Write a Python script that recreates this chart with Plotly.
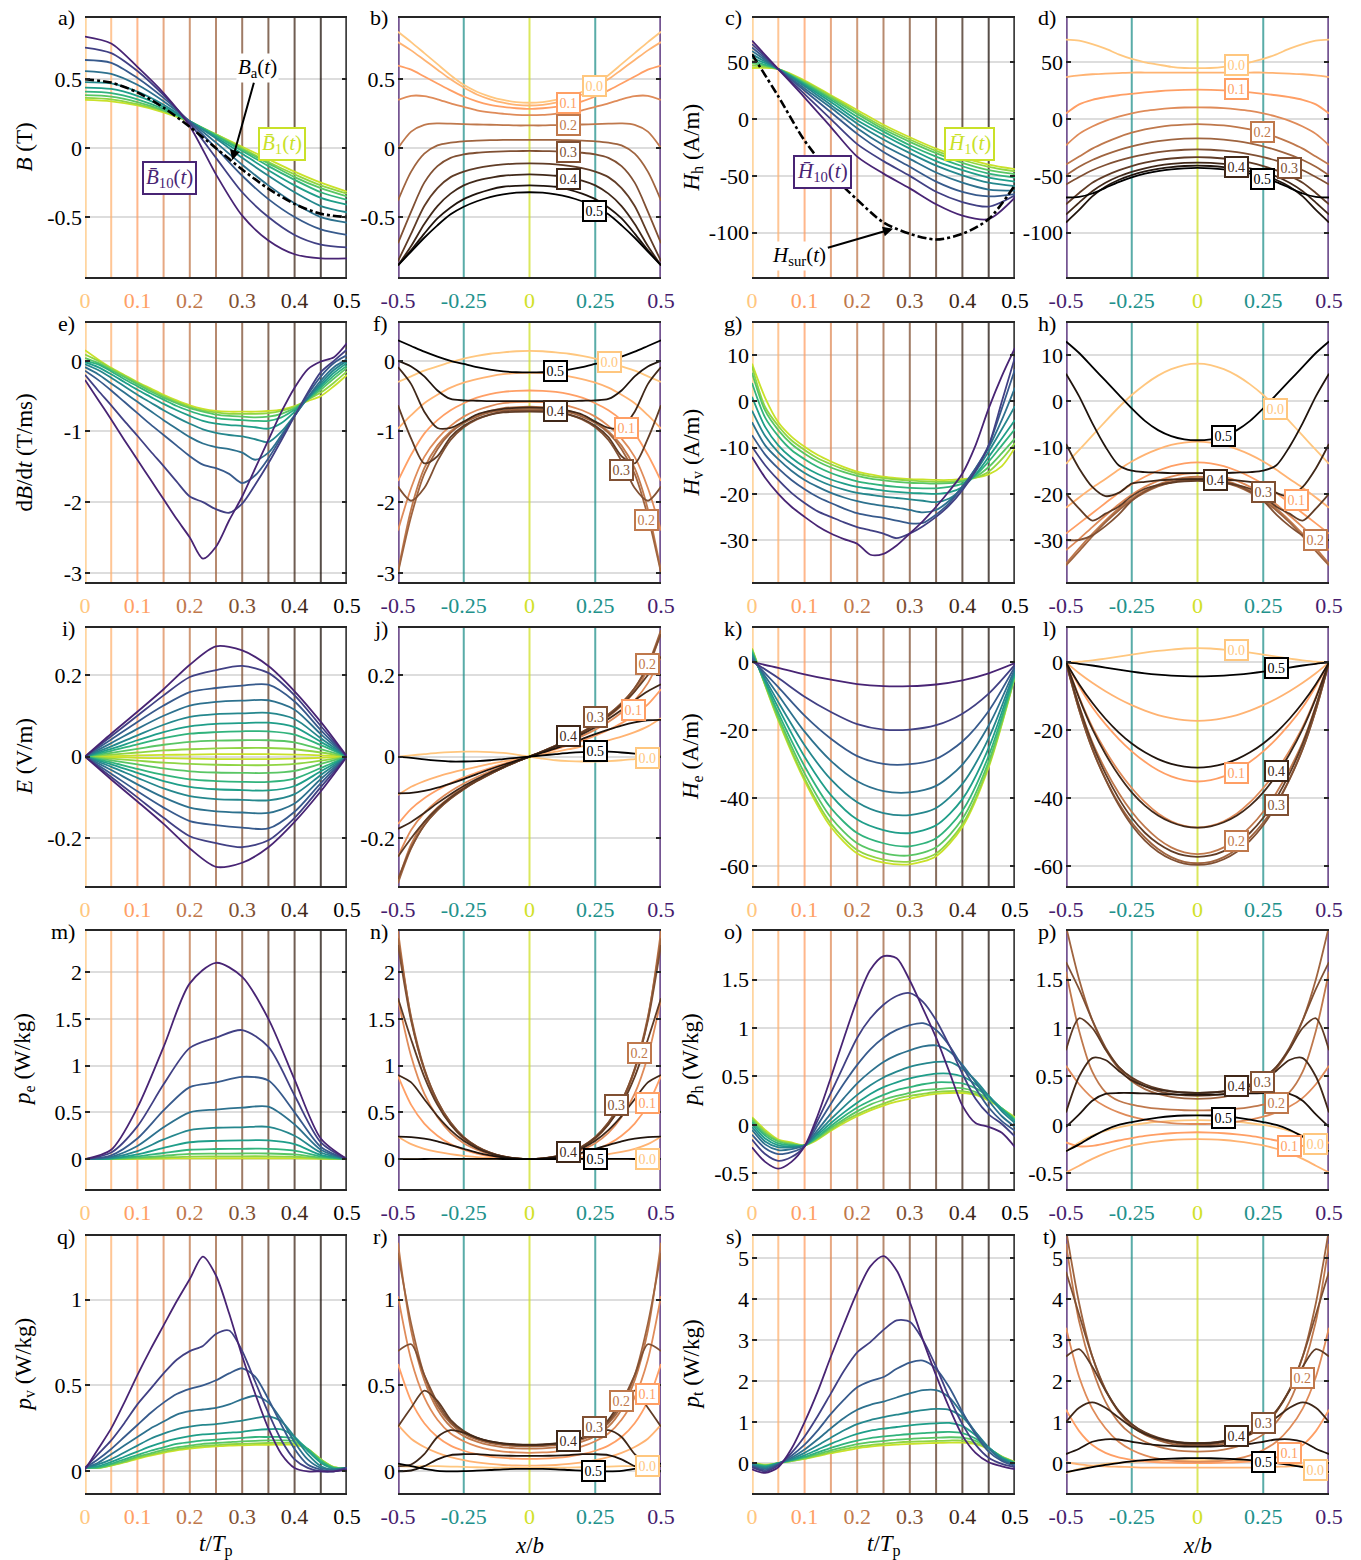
import plotly.graph_objects as go
from plotly.colors import sample_colorscale

W, H = 1361, 1560
FONT = "Liberation Serif"
COLS = [(85, 347), (398, 661), (752, 1015), (1066, 1329)]
ROWS = [(18, 277), (323, 582), (628, 886), (931, 1189), (1236, 1493)]

# ---------------------------------------------------------------- grids
T11 = [0, 0.05, 0.1, 0.15, 0.2, 0.25, 0.3, 0.35, 0.4, 0.45, 0.5]
T21 = [0, 0.025, 0.05, 0.075, 0.1, 0.125, 0.15, 0.175, 0.2, 0.225, 0.25,
       0.275, 0.3, 0.325, 0.35, 0.375, 0.4, 0.425, 0.45, 0.475, 0.5]
X_HALF = [0, 0.05, 0.1, 0.15, 0.2, 0.25, 0.3, 0.35, 0.4, 0.45, 0.5]
SNAP_T = [0, 0.05, 0.1, 0.15, 0.2, 0.25, 0.3, 0.35, 0.4, 0.45, 0.5]
TIME_TICKS = [0, 0.1, 0.2, 0.3, 0.4, 0.5]
TIME_TICK_TEXT = ["0", "0.1", "0.2", "0.3", "0.4", "0.5"]
SPACE_TICKS = [-0.5, -0.25, 0, 0.25, 0.5]
SPACE_TICK_TEXT = ["-0.5", "-0.25", "0", "0.25", "0.5"]

# ---------------------------------------------------------------- a) B(t), element averages 1..10 (centre -> surface)
B_T = [
    [0.35, 0.34, 0.31, 0.26, 0.19, 0.10, 0.01, -0.08, -0.17, -0.25, -0.315],
    [0.365, 0.355, 0.32, 0.27, 0.19, 0.10, 0.00, -0.10, -0.19, -0.27, -0.33],
    [0.385, 0.375, 0.335, 0.275, 0.195, 0.095, -0.01, -0.11, -0.21, -0.29, -0.35],
    [0.41, 0.40, 0.355, 0.285, 0.195, 0.09, -0.02, -0.13, -0.23, -0.32, -0.375],
    [0.44, 0.43, 0.38, 0.30, 0.195, 0.08, -0.04, -0.16, -0.27, -0.36, -0.41],
    [0.48, 0.47, 0.41, 0.315, 0.195, 0.07, -0.07, -0.20, -0.32, -0.42, -0.465],
    [0.56, 0.54, 0.46, 0.34, 0.195, 0.04, -0.12, -0.27, -0.40, -0.50, -0.54],
    [0.64, 0.62, 0.51, 0.365, 0.19, 0.00, -0.20, -0.37, -0.50, -0.59, -0.63],
    [0.73, 0.69, 0.56, 0.385, 0.18, -0.07, -0.32, -0.50, -0.63, -0.70, -0.72],
    [0.81, 0.76, 0.59, 0.40, 0.16, -0.19, -0.49, -0.67, -0.77, -0.80, -0.80],
]
BA_T = [0.5, 0.476, 0.405, 0.294, 0.155, 0.0, -0.155, -0.294, -0.405, -0.476, -0.5]

# b) B(x) half profiles, one per snapshot time
B_X = [
    [0.33, 0.335, 0.35, 0.375, 0.41, 0.46, 0.53, 0.61, 0.69, 0.77, 0.845],
    [0.31, 0.315, 0.33, 0.355, 0.39, 0.44, 0.50, 0.57, 0.64, 0.71, 0.77],
    [0.285, 0.29, 0.30, 0.315, 0.34, 0.375, 0.42, 0.47, 0.52, 0.57, 0.60],
    [0.24, 0.242, 0.25, 0.26, 0.275, 0.30, 0.325, 0.355, 0.378, 0.38, 0.35],
    [0.165, 0.165, 0.168, 0.17, 0.172, 0.175, 0.178, 0.18, 0.17, 0.12, 0.0],
    [0.06, 0.06, 0.06, 0.058, 0.055, 0.05, 0.04, 0.02, -0.04, -0.17, -0.38],
    [-0.02, -0.021, -0.023, -0.027, -0.033, -0.045, -0.07, -0.13, -0.25, -0.46, -0.69],
    [-0.11, -0.112, -0.118, -0.128, -0.145, -0.17, -0.21, -0.29, -0.42, -0.62, -0.82],
    [-0.19, -0.193, -0.20, -0.215, -0.235, -0.27, -0.33, -0.42, -0.55, -0.71, -0.85],
    [-0.27, -0.273, -0.28, -0.30, -0.33, -0.37, -0.43, -0.51, -0.62, -0.74, -0.85],
    [-0.32, -0.323, -0.335, -0.355, -0.385, -0.425, -0.48, -0.56, -0.65, -0.75, -0.85],
]

# c) hysteresis field Hh(t) and surface field
HH_T = [
    [45, 44, 34, 21, 8, -5, -16, -26, -34, -40, -44],
    [47, 44, 33, 20, 6, -7, -18, -28, -36, -42, -46],
    [49, 44, 32, 18.5, 4.5, -9, -20, -30, -38.5, -45, -48.5],
    [51, 44, 31, 17, 2, -11, -23, -33, -41.5, -48, -51.5],
    [54, 44, 30, 15, -1, -14, -26, -37, -45, -51.5, -55],
    [57, 44, 29, 12.5, -4, -18, -30, -41, -49.5, -56, -59],
    [60, 44, 27, 10, -8, -23, -35, -47, -56, -62, -63],
    [63, 44, 25, 6, -13, -29, -42, -55, -64, -68, -66],
    [66, 44, 22, 0, -22, -37, -50, -64, -73, -77, -67],
    [69, 44, 19, -7, -33, -48, -61, -75, -85, -88, -69],
]
HSUR_T = [57, 20, -19, -48, -71, -91, -101, -106, -101, -88, -58]

# d) Hh(x)
HH_X = [
    [44.8, 45, 46, 48, 50, 53, 57, 62, 66, 69, 70],
    [41, 41, 41, 41, 41, 41, 40.5, 40, 39.5, 38.5, 37],
    [26, 25.8, 25.3, 24.5, 23.5, 22.3, 21, 19.3, 17, 13, 5],
    [10.4, 10.2, 9.6, 8.6, 7.2, 5, 2.2, -1.5, -6.5, -13, -23],
    [-4.5, -4.8, -5.6, -7, -9, -12, -15.8, -20.5, -26, -33, -40],
    [-16.9, -17.2, -18, -19.4, -21.4, -24, -27.3, -31.3, -36, -42, -49.5],
    [-26.7, -27, -27.8, -29.1, -31, -33.5, -36.6, -40.4, -45, -51, -57.6],
    [-33.5, -33.8, -34.7, -36.2, -38.4, -41.4, -45.2, -50, -56, -65, -75],
    [-38.3, -38.6, -39.5, -41, -43.3, -46.4, -50.5, -56, -63.5, -73.5, -84],
    [-41, -41.3, -42.2, -43.8, -46.1, -49.3, -53.6, -59.5, -68, -80, -91],
    [-43, -43.3, -44.2, -45.8, -48.1, -51.3, -55.5, -60.5, -65.5, -68.5, -69],
]

# e) dB/dt (t), T/ms
DB_T = [
    [0.15, 0.02, -0.10, -0.20, -0.30, -0.39, -0.48, -0.56, -0.63, -0.68, -0.71, -0.72, -0.72, -0.72, -0.71, -0.69, -0.64, -0.57, -0.50, -0.36, -0.20],
    [0.09, 0.00, -0.11, -0.21, -0.31, -0.41, -0.50, -0.58, -0.65, -0.70, -0.73, -0.75, -0.75, -0.75, -0.74, -0.71, -0.65, -0.55, -0.45, -0.31, -0.15],
    [0.04, -0.03, -0.13, -0.23, -0.33, -0.43, -0.52, -0.60, -0.67, -0.72, -0.76, -0.78, -0.79, -0.80, -0.79, -0.75, -0.67, -0.55, -0.41, -0.25, -0.10],
    [0.00, -0.05, -0.15, -0.26, -0.36, -0.46, -0.55, -0.64, -0.71, -0.77, -0.81, -0.83, -0.84, -0.85, -0.85, -0.80, -0.69, -0.54, -0.38, -0.21, -0.07],
    [-0.02, -0.09, -0.19, -0.30, -0.41, -0.51, -0.61, -0.70, -0.78, -0.85, -0.89, -0.91, -0.92, -0.94, -0.96, -0.88, -0.72, -0.53, -0.35, -0.17, -0.03],
    [-0.05, -0.13, -0.24, -0.36, -0.48, -0.59, -0.70, -0.80, -0.89, -0.97, -1.02, -1.05, -1.07, -1.11, -1.15, -1.00, -0.77, -0.53, -0.32, -0.13, 0.00],
    [-0.09, -0.19, -0.32, -0.45, -0.58, -0.71, -0.84, -0.96, -1.08, -1.17, -1.22, -1.25, -1.30, -1.40, -1.30, -1.05, -0.78, -0.52, -0.28, -0.09, 0.02],
    [-0.14, -0.27, -0.42, -0.58, -0.74, -0.90, -1.05, -1.20, -1.35, -1.47, -1.52, -1.60, -1.73, -1.62, -1.38, -1.08, -0.78, -0.48, -0.22, -0.03, 0.08],
    [-0.20, -0.42, -0.63, -0.85, -1.06, -1.28, -1.49, -1.71, -1.92, -2.00, -2.10, -2.15, -2.02, -1.75, -1.45, -1.12, -0.78, -0.45, -0.16, 0.00, 0.16],
    [-0.27, -0.55, -0.83, -1.12, -1.40, -1.68, -1.96, -2.24, -2.50, -2.80, -2.63, -2.26, -1.92, -1.52, -1.12, -0.72, -0.38, -0.12, -0.01, 0.05, 0.25],
]

# f) dB/dt (x)
DB_X = [
    [0.14, 0.135, 0.12, 0.10, 0.07, 0.03, -0.02, -0.08, -0.14, -0.22, -0.30],
    [-0.17, -0.175, -0.19, -0.22, -0.26, -0.31, -0.38, -0.48, -0.60, -0.77, -0.96],
    [-0.42, -0.425, -0.44, -0.47, -0.52, -0.60, -0.70, -0.84, -1.03, -1.33, -1.70],
    [-0.58, -0.585, -0.60, -0.64, -0.70, -0.79, -0.92, -1.10, -1.36, -1.80, -2.40],
    [-0.65, -0.655, -0.67, -0.71, -0.77, -0.86, -1.00, -1.20, -1.52, -2.10, -2.98],
    [-0.68, -0.685, -0.70, -0.73, -0.79, -0.88, -1.02, -1.25, -1.60, -2.20, -3.00],
    [-0.70, -0.705, -0.72, -0.76, -0.83, -0.94, -1.12, -1.42, -1.80, -1.98, -1.78],
    [-0.72, -0.722, -0.73, -0.76, -0.82, -0.92, -1.08, -1.35, -1.45, -1.10, -0.63],
    [-0.66, -0.665, -0.68, -0.71, -0.76, -0.86, -0.95, -0.95, -0.72, -0.33, -0.09],
    [-0.57, -0.57, -0.57, -0.57, -0.565, -0.56, -0.54, -0.42, -0.22, -0.08, 0.0],
    [-0.165, -0.162, -0.15, -0.125, -0.09, -0.045, 0.0, 0.06, 0.13, 0.21, 0.29],
]

# g) Hv(t), A/m
HV_T = [
    [8.2, 0.8, -4.5, -7.6, -9.8, -11.6, -13.0, -14.2, -15.2, -15.8, -16.3, -16.6, -16.8, -16.9, -17.0, -17.0, -16.8, -16.5, -15.8, -14.0, -10.0],
    [7.6, -1.2, -5.3, -8.4, -10.5, -12.3, -13.6, -14.7, -15.6, -16.2, -16.6, -16.9, -17.1, -17.3, -17.4, -17.4, -17.1, -16.5, -15.2, -12.5, -9.0],
    [6.2, -2.0, -6.2, -9.2, -11.3, -13.0, -14.3, -15.3, -16.1, -16.7, -17.1, -17.4, -17.6, -17.7, -17.8, -17.7, -17.3, -16.3, -14.2, -11.2, -8.0],
    [4.0, -3.5, -7.5, -10.5, -12.5, -14.2, -15.5, -16.5, -17.3, -17.8, -18.2, -18.5, -18.7, -18.8, -18.8, -18.5, -17.8, -16.0, -13.0, -9.5, -6.0],
    [1.0, -5.5, -9.5, -12.2, -14.2, -15.7, -16.9, -17.8, -18.5, -18.9, -19.3, -19.6, -19.8, -19.9, -20.0, -19.7, -18.5, -15.8, -12.0, -8.0, -4.0],
    [-2.0, -7.5, -11.0, -13.5, -15.5, -17.0, -18.2, -19.1, -19.8, -20.2, -20.6, -20.9, -21.2, -21.5, -21.8, -21.0, -18.8, -15.2, -10.8, -6.0, -1.0],
    [-4.5, -9.5, -12.5, -15.0, -17.0, -18.5, -19.8, -20.8, -21.6, -22.2, -22.6, -23.0, -23.5, -24.0, -23.5, -21.5, -18.5, -14.5, -10.0, -4.0, 3.0],
    [-7.3, -11.5, -14.5, -17.0, -19.0, -20.7, -22.0, -23.2, -24.2, -24.8, -25.2, -25.8, -26.4, -26.3, -24.5, -22.0, -18.5, -14.5, -9.5, -1.5, 7.0],
    [-9.8, -13.8, -17.0, -19.8, -22.0, -23.8, -25.0, -26.2, -27.2, -27.9, -28.6, -29.6, -28.6, -27.0, -25.0, -22.5, -19.2, -15.0, -9.5, 0.0, 9.6],
    [-12.0, -16.5, -20.0, -22.8, -25.0, -27.0, -28.6, -29.8, -30.8, -33.2, -33.0, -31.2, -28.6, -25.9, -22.8, -19.4, -15.6, -9.5, -1.5, 5.5, 11.6],
]

# h) Hv(x)
HV_X = [
    [8.2, 7.9, 7.0, 5.6, 3.7, 1.4, -1.3, -4.3, -7.4, -10.5, -13.5],
    [-8.7, -8.9, -9.4, -10.3, -11.5, -13.0, -14.8, -16.8, -18.7, -20.8, -23.0],
    [-13.2, -13.4, -14.0, -15.0, -16.3, -17.9, -19.8, -22.0, -24.2, -26.4, -28.6],
    [-15.5, -15.7, -16.3, -17.2, -18.5, -20.2, -22.3, -24.7, -27.2, -29.8, -32.2],
    [-16.3, -16.5, -17.1, -18.0, -19.3, -21.0, -23.2, -25.8, -28.7, -31.8, -35.1],
    [-16.7, -16.9, -17.5, -18.4, -19.7, -21.4, -23.6, -26.2, -29.2, -32.4, -35.5],
    [-17.0, -17.1, -17.5, -18.2, -19.5, -21.5, -24.5, -27.0, -29.0, -30.0, -30.0],
    [-17.2, -17.3, -17.6, -18.1, -18.9, -20.5, -22.8, -24.3, -25.8, -23.2, -20.0],
    [-16.8, -16.8, -16.9, -17.1, -17.4, -17.8, -19.8, -20.5, -18.5, -14.5, -9.2],
    [-15.5, -15.5, -15.5, -15.4, -15.3, -15.0, -13.8, -9.8, -4.7, 1.1, 6.0],
    [-8.4, -8.2, -7.5, -6.2, -4.2, -1.5, 1.5, 4.5, 7.5, 10.5, 13.0],
]

# i) E(t), V/m, positive-x elements (negative-x elements carry the opposite sign)
E_T = [
    [0, 0.001, 0.003, 0.004, 0.005, 0.006, 0.006, 0.006, 0.005, 0.003, 0],
    [0, 0.005, 0.01, 0.015, 0.018, 0.02, 0.021, 0.021, 0.018, 0.01, 0],
    [0, 0.009, 0.019, 0.029, 0.036, 0.039, 0.04, 0.04, 0.035, 0.018, 0],
    [0, 0.014, 0.03, 0.045, 0.056, 0.06, 0.062, 0.062, 0.054, 0.028, 0],
    [0, 0.019, 0.04, 0.06, 0.074, 0.08, 0.082, 0.083, 0.072, 0.036, 0],
    [0, 0.025, 0.052, 0.078, 0.097, 0.104, 0.106, 0.107, 0.092, 0.045, 0],
    [0, 0.033, 0.068, 0.1, 0.125, 0.134, 0.137, 0.138, 0.115, 0.055, 0],
    [0, 0.042, 0.085, 0.125, 0.158, 0.168, 0.174, 0.176, 0.135, 0.065, 0],
    [0, 0.05, 0.1, 0.15, 0.195, 0.212, 0.222, 0.205, 0.15, 0.075, 0],
    [0, 0.056, 0.11, 0.165, 0.225, 0.27, 0.26, 0.222, 0.16, 0.085, 0],
]

# j) E(x), odd in x; values for x >= 0
E_X = [
    [0, -0.005, -0.009, -0.011, -0.012, -0.012, -0.011, -0.009, -0.006, -0.003, 0.0],
    [0, 0.006, 0.012, 0.018, 0.025, 0.032, 0.040, 0.049, 0.060, 0.074, 0.094],
    [0, 0.009, 0.018, 0.028, 0.039, 0.051, 0.065, 0.082, 0.102, 0.128, 0.165],
    [0, 0.011, 0.023, 0.036, 0.05, 0.066, 0.085, 0.108, 0.138, 0.18, 0.245],
    [0, 0.012, 0.026, 0.041, 0.057, 0.076, 0.098, 0.125, 0.16, 0.215, 0.305],
    [0, 0.013, 0.027, 0.043, 0.06, 0.08, 0.103, 0.131, 0.168, 0.225, 0.31],
    [0, 0.013, 0.027, 0.043, 0.06, 0.08, 0.103, 0.131, 0.168, 0.223, 0.30],
    [0, 0.013, 0.027, 0.042, 0.059, 0.078, 0.1, 0.127, 0.16, 0.2, 0.245],
    [0, 0.012, 0.025, 0.039, 0.055, 0.072, 0.092, 0.114, 0.138, 0.16, 0.177],
    [0, 0.01, 0.02, 0.031, 0.043, 0.055, 0.066, 0.076, 0.084, 0.089, 0.09],
    [0, 0.003, 0.006, 0.009, 0.011, 0.012, 0.012, 0.01, 0.007, 0.003, 0.0],
]

# k) He(t), A/m
HE_T = [
    [4.15, -17.1, -34.9, -48.5, -56.3, -59.0, -59.5, -57.1, -48.5, -30.9, -4.1],
    [3.95, -16.7, -34.2, -47.5, -55.3, -58.1, -58.7, -56.3, -47.7, -30.3, -4.0],
    [3.6, -16.0, -32.7, -45.7, -53.3, -56.2, -56.9, -54.5, -46.1, -29.2, -3.75],
    [3.15, -14.9, -30.6, -42.9, -50.3, -53.3, -54.2, -51.8, -43.7, -27.5, -3.4],
    [2.6, -13.4, -27.8, -39.1, -46.3, -49.4, -50.3, -48.0, -40.3, -25.2, -2.95],
    [2.0, -11.7, -24.4, -34.5, -41.2, -44.4, -45.0, -42.9, -35.8, -22.3, -2.4],
    [1.4, -9.6, -20.4, -29.0, -35.0, -37.9, -38.3, -36.4, -30.1, -18.6, -1.8],
    [0.85, -7.3, -15.7, -22.5, -27.6, -29.9, -30.0, -28.4, -23.3, -14.3, -1.2],
    [0.4, -4.6, -10.1, -14.6, -18.2, -19.8, -19.8, -18.5, -15.1, -9.2, -0.65],
    [0.1, -1.6, -3.5, -5.1, -6.4, -7.0, -7.0, -6.5, -5.3, -3.2, -0.2],
]

# l) He(x)
HE_X = [
    [4.2, 4.1, 3.8, 3.4, 2.9, 2.3, 1.7, 1.1, 0.6, 0.2, 0],
    [-17.2, -17.0, -16.4, -15.5, -14.2, -12.6, -10.7, -8.5, -6.0, -3.2, 0],
    [-35.1, -34.7, -33.6, -31.8, -29.3, -26.2, -22.5, -18.2, -13.2, -7.0, 0],
    [-48.7, -48.2, -46.8, -44.5, -41.2, -37.0, -32.0, -26.0, -19.0, -10.2, 0],
    [-56.5, -56.0, -54.5, -52.0, -48.5, -44.0, -38.4, -31.6, -23.5, -12.8, 0],
    [-59.2, -58.8, -57.4, -55.0, -51.6, -47.2, -41.5, -34.3, -25.5, -14.0, 0],
    [-59.7, -59.3, -58.0, -55.8, -52.5, -48.0, -42.0, -34.5, -25.5, -14.0, 0],
    [-57.3, -56.9, -55.6, -53.4, -50.2, -45.8, -40.0, -32.8, -24.0, -13.0, 0],
    [-48.7, -48.3, -47.1, -45.1, -42.2, -38.3, -33.2, -27.0, -19.6, -10.5, 0],
    [-31.0, -30.7, -29.9, -28.5, -26.5, -23.9, -20.6, -16.6, -11.9, -6.4, 0],
    [-4.1, -4.05, -3.9, -3.6, -3.2, -2.7, -2.1, -1.5, -0.9, -0.4, 0],
]

# m) pe(t), W/kg
PE_T = [
    [0, 0, 0.002, 0.005, 0.008, 0.009, 0.009, 0.009, 0.008, 0.003, 0],
    [0, 0.001, 0.007, 0.017, 0.027, 0.029, 0.03, 0.03, 0.025, 0.008, 0],
    [0, 0.003, 0.015, 0.035, 0.055, 0.058, 0.06, 0.06, 0.05, 0.015, 0],
    [0, 0.005, 0.028, 0.065, 0.1, 0.108, 0.11, 0.11, 0.09, 0.028, 0],
    [0, 0.008, 0.05, 0.12, 0.18, 0.195, 0.2, 0.2, 0.16, 0.045, 0],
    [0, 0.015, 0.085, 0.21, 0.31, 0.335, 0.34, 0.345, 0.25, 0.07, 0],
    [0, 0.025, 0.14, 0.34, 0.5, 0.53, 0.55, 0.56, 0.37, 0.1, 0],
    [0, 0.04, 0.22, 0.52, 0.77, 0.82, 0.88, 0.84, 0.5, 0.13, 0],
    [0, 0.07, 0.35, 0.8, 1.19, 1.3, 1.38, 1.2, 0.68, 0.18, 0],
    [0, 0.1, 0.55, 1.2, 1.88, 2.1, 1.95, 1.5, 0.85, 0.22, 0],
]

# n) pe(x)
PE_X = [
    [0, 0.0005, 0.001, 0.0015, 0.002, 0.002, 0.0018, 0.0012, 0.0006, 0.0002, 0],
    [0, 0.001, 0.005, 0.012, 0.022, 0.035, 0.053, 0.077, 0.11, 0.16, 0.24],
    [0, 0.003, 0.013, 0.03, 0.058, 0.1, 0.16, 0.25, 0.38, 0.58, 0.89],
    [0, 0.005, 0.02, 0.05, 0.1, 0.17, 0.28, 0.45, 0.7, 1.1, 1.71],
    [0, 0.006, 0.026, 0.065, 0.125, 0.22, 0.37, 0.6, 0.95, 1.5, 2.44],
    [0, 0.007, 0.028, 0.07, 0.135, 0.235, 0.39, 0.62, 0.97, 1.52, 2.36],
    [0, 0.007, 0.028, 0.07, 0.135, 0.235, 0.39, 0.62, 0.96, 1.48, 2.29],
    [0, 0.007, 0.027, 0.067, 0.13, 0.225, 0.37, 0.58, 0.88, 1.28, 1.72],
    [0, 0.006, 0.025, 0.06, 0.115, 0.195, 0.31, 0.46, 0.64, 0.82, 0.9],
    [0, 0.005, 0.018, 0.04, 0.07, 0.11, 0.15, 0.19, 0.22, 0.235, 0.24],
    [0, 0.0003, 0.001, 0.002, 0.003, 0.003, 0.003, 0.002, 0.001, 0.0003, 0],
]

# o) ph(t), W/kg
PH_T = [
    [0.08, -0.05, -0.15, -0.18, -0.21, -0.15, -0.06, 0.02, 0.09, 0.15, 0.2, 0.24, 0.27, 0.3, 0.32, 0.33, 0.33, 0.31, 0.25, 0.17, 0.08],
    [0.07, -0.07, -0.16, -0.19, -0.21, -0.14, -0.05, 0.04, 0.11, 0.17, 0.22, 0.27, 0.3, 0.32, 0.34, 0.35, 0.35, 0.32, 0.26, 0.17, 0.07],
    [0.05, -0.09, -0.17, -0.2, -0.21, -0.13, -0.03, 0.06, 0.14, 0.21, 0.26, 0.3, 0.33, 0.36, 0.37, 0.38, 0.38, 0.34, 0.27, 0.17, 0.06],
    [0.03, -0.11, -0.19, -0.21, -0.21, -0.12, -0.01, 0.09, 0.18, 0.25, 0.31, 0.36, 0.39, 0.42, 0.44, 0.44, 0.43, 0.38, 0.29, 0.17, 0.05],
    [0.01, -0.14, -0.21, -0.22, -0.21, -0.1, 0.02, 0.13, 0.23, 0.32, 0.39, 0.44, 0.48, 0.51, 0.53, 0.53, 0.5, 0.42, 0.3, 0.16, 0.04],
    [-0.02, -0.17, -0.23, -0.23, -0.21, -0.08, 0.06, 0.19, 0.31, 0.41, 0.49, 0.55, 0.6, 0.63, 0.65, 0.65, 0.58, 0.46, 0.3, 0.14, 0.02],
    [-0.05, -0.2, -0.26, -0.25, -0.21, -0.05, 0.12, 0.28, 0.43, 0.55, 0.65, 0.72, 0.77, 0.81, 0.82, 0.76, 0.62, 0.44, 0.25, 0.09, -0.02],
    [-0.1, -0.24, -0.3, -0.28, -0.22, 0.0, 0.22, 0.43, 0.62, 0.78, 0.9, 0.98, 1.03, 1.05, 0.98, 0.82, 0.6, 0.38, 0.18, 0.04, -0.06],
    [-0.15, -0.3, -0.37, -0.33, -0.22, 0.05, 0.33, 0.62, 0.9, 1.1, 1.24, 1.33, 1.36, 1.27, 1.08, 0.82, 0.53, 0.27, 0.11, 0.01, -0.12],
    [-0.23, -0.38, -0.45, -0.38, -0.22, 0.1, 0.49, 0.9, 1.29, 1.6, 1.74, 1.72, 1.49, 1.2, 0.9, 0.55, 0.2, 0.02, -0.02, -0.08, -0.23],
]

# p) ph(x)
PH_X = [
    [0.05, 0.048, 0.042, 0.032, 0.018, 0.0, -0.025, -0.06, -0.11, -0.18, -0.27],
    [-0.145, -0.148, -0.155, -0.168, -0.186, -0.21, -0.245, -0.29, -0.35, -0.42, -0.49],
    [-0.075, -0.078, -0.085, -0.097, -0.113, -0.135, -0.16, -0.19, -0.215, -0.22, -0.18],
    [0.01, 0.012, 0.02, 0.035, 0.055, 0.085, 0.13, 0.19, 0.28, 0.42, 0.61],
    [0.15, 0.152, 0.158, 0.168, 0.185, 0.21, 0.25, 0.34, 0.55, 0.97, 1.58],
    [0.27, 0.275, 0.29, 0.32, 0.37, 0.45, 0.58, 0.78, 1.08, 1.5, 2.05],
    [0.3, 0.305, 0.32, 0.35, 0.4, 0.48, 0.6, 0.8, 1.08, 1.4, 1.68],
    [0.33, 0.335, 0.35, 0.375, 0.42, 0.49, 0.6, 0.78, 1.0, 1.1, 0.77],
    [0.33, 0.335, 0.345, 0.365, 0.4, 0.46, 0.56, 0.67, 0.69, 0.5, 0.13],
    [0.31, 0.312, 0.315, 0.32, 0.325, 0.33, 0.33, 0.32, 0.25, 0.11, -0.02],
    [0.1, 0.098, 0.09, 0.075, 0.055, 0.03, 0.0, -0.05, -0.12, -0.2, -0.27],
]

# q) pv(t), W/kg
PV_T = [
    [0.02, 0.02, 0.033, 0.052, 0.073, 0.092, 0.108, 0.122, 0.132, 0.14, 0.145, 0.15, 0.152, 0.154, 0.155, 0.155, 0.154, 0.13, 0.07, 0.025, 0.02],
    [0.02, 0.02, 0.035, 0.055, 0.078, 0.097, 0.115, 0.13, 0.14, 0.148, 0.153, 0.158, 0.16, 0.163, 0.165, 0.165, 0.163, 0.13, 0.07, 0.025, 0.02],
    [0.02, 0.02, 0.04, 0.06, 0.085, 0.105, 0.125, 0.14, 0.15, 0.16, 0.165, 0.17, 0.175, 0.178, 0.18, 0.18, 0.175, 0.13, 0.065, 0.02, 0.02],
    [0.02, 0.025, 0.045, 0.07, 0.095, 0.12, 0.14, 0.16, 0.17, 0.18, 0.185, 0.19, 0.195, 0.2, 0.2, 0.2, 0.19, 0.13, 0.06, 0.02, 0.02],
    [0.02, 0.03, 0.055, 0.085, 0.115, 0.145, 0.17, 0.19, 0.205, 0.215, 0.22, 0.225, 0.23, 0.24, 0.245, 0.245, 0.2, 0.12, 0.05, 0.015, 0.02],
    [0.02, 0.04, 0.07, 0.11, 0.15, 0.19, 0.22, 0.245, 0.26, 0.27, 0.275, 0.285, 0.295, 0.31, 0.32, 0.29, 0.2, 0.1, 0.03, 0.01, 0.02],
    [0.02, 0.05, 0.1, 0.15, 0.2, 0.25, 0.29, 0.33, 0.35, 0.36, 0.37, 0.39, 0.42, 0.44, 0.4, 0.3, 0.17, 0.07, 0.02, 0.01, 0.02],
    [0.02, 0.07, 0.13, 0.2, 0.27, 0.34, 0.4, 0.45, 0.48, 0.5, 0.53, 0.57, 0.6, 0.55, 0.42, 0.27, 0.13, 0.04, 0.01, 0.0, 0.02],
    [0.02, 0.1, 0.18, 0.28, 0.39, 0.48, 0.57, 0.65, 0.7, 0.73, 0.8, 0.82, 0.7, 0.52, 0.34, 0.18, 0.07, 0.02, 0.0, 0.0, 0.02],
    [0.01, 0.13, 0.25, 0.4, 0.56, 0.71, 0.85, 0.99, 1.12, 1.25, 1.14, 0.92, 0.67, 0.45, 0.25, 0.1, 0.02, 0.0, 0.0, 0.0, 0.01],
]

# r) pv(x)
PV_X = [
    [0.02, 0.02, 0.021, 0.022, 0.024, 0.026, 0.028, 0.03, 0.03, 0.028, 0.03],
    [0.033, 0.034, 0.037, 0.043, 0.052, 0.065, 0.083, 0.108, 0.142, 0.19, 0.27],
    [0.073, 0.074, 0.078, 0.086, 0.1, 0.12, 0.15, 0.2, 0.28, 0.41, 0.625],
    [0.108, 0.11, 0.115, 0.126, 0.145, 0.175, 0.22, 0.3, 0.43, 0.65, 1.02],
    [0.132, 0.134, 0.14, 0.152, 0.173, 0.205, 0.26, 0.36, 0.53, 0.82, 1.33],
    [0.145, 0.147, 0.153, 0.165, 0.186, 0.22, 0.28, 0.38, 0.56, 0.86, 1.27],
    [0.152, 0.154, 0.16, 0.172, 0.193, 0.23, 0.29, 0.4, 0.56, 0.74, 0.7],
    [0.155, 0.157, 0.163, 0.175, 0.197, 0.235, 0.3, 0.41, 0.47, 0.37, 0.26],
    [0.154, 0.156, 0.162, 0.174, 0.195, 0.225, 0.24, 0.2, 0.1, 0.04, 0.03],
    [0.09, 0.09, 0.092, 0.095, 0.1, 0.1, 0.095, 0.07, 0.03, 0.005, 0.0],
    [0.015, 0.014, 0.012, 0.008, 0.004, 0.001, 0.0, 0.003, 0.015, 0.03, 0.045],
]

# s) pt(t), W/kg
PT_T = [
    [0.01, -0.04, 0.0, 0.05, 0.1, 0.17, 0.24, 0.3, 0.36, 0.4, 0.43, 0.45, 0.47, 0.48, 0.49, 0.5, 0.5, 0.46, 0.34, 0.16, 0.03],
    [0, -0.05, 0.0, 0.05, 0.11, 0.19, 0.27, 0.34, 0.4, 0.44, 0.47, 0.5, 0.52, 0.53, 0.54, 0.55, 0.55, 0.49, 0.35, 0.16, 0.02],
    [0, -0.06, 0.0, 0.06, 0.13, 0.22, 0.31, 0.39, 0.46, 0.51, 0.54, 0.57, 0.59, 0.61, 0.62, 0.63, 0.62, 0.54, 0.36, 0.15, 0.01],
    [-0.01, -0.07, 0.0, 0.07, 0.15, 0.26, 0.37, 0.47, 0.55, 0.61, 0.65, 0.68, 0.71, 0.73, 0.75, 0.76, 0.73, 0.6, 0.37, 0.14, 0.0],
    [-0.02, -0.09, 0.0, 0.08, 0.19, 0.33, 0.47, 0.6, 0.71, 0.79, 0.84, 0.88, 0.92, 0.95, 0.97, 0.98, 0.9, 0.68, 0.38, 0.13, -0.01],
    [-0.03, -0.11, -0.01, 0.1, 0.25, 0.43, 0.62, 0.8, 0.95, 1.05, 1.12, 1.18, 1.24, 1.29, 1.32, 1.3, 1.12, 0.75, 0.38, 0.11, -0.03],
    [-0.05, -0.14, -0.02, 0.13, 0.33, 0.58, 0.85, 1.1, 1.3, 1.42, 1.5, 1.6, 1.7, 1.78, 1.78, 1.6, 1.2, 0.75, 0.35, 0.08, -0.05],
    [-0.07, -0.17, -0.03, 0.18, 0.45, 0.8, 1.2, 1.55, 1.85, 2.0, 2.1, 2.3, 2.45, 2.5, 2.3, 1.85, 1.25, 0.7, 0.28, 0.05, -0.07],
    [-0.1, -0.2, -0.05, 0.25, 0.65, 1.15, 1.7, 2.25, 2.7, 2.95, 3.25, 3.48, 3.45, 3.0, 2.35, 1.6, 0.95, 0.45, 0.13, -0.02, -0.1],
    [-0.15, -0.24, -0.1, 0.35, 1.0, 1.75, 2.6, 3.4, 4.17, 4.8, 5.05, 4.7, 3.93, 3.0, 2.14, 1.35, 0.67, 0.25, 0.02, -0.08, -0.15],
]

# t) pt(x)
PT_X = [
    [0.07, 0.068, 0.062, 0.055, 0.045, 0.03, 0.01, -0.02, -0.07, -0.14, -0.24],
    [-0.11, -0.11, -0.11, -0.11, -0.11, -0.1, -0.09, -0.08, -0.06, -0.03, 0.02],
    [0.0, 0.002, 0.01, 0.02, 0.04, 0.08, 0.14, 0.25, 0.44, 0.78, 1.3],
    [0.03, 0.04, 0.06, 0.11, 0.19, 0.32, 0.52, 0.85, 1.33, 2.1, 3.3],
    [0.28, 0.29, 0.33, 0.4, 0.52, 0.7, 1.0, 1.5, 2.3, 3.45, 5.35],
    [0.42, 0.43, 0.47, 0.56, 0.69, 0.9, 1.25, 1.78, 2.6, 3.9, 5.7],
    [0.45, 0.46, 0.51, 0.59, 0.73, 0.95, 1.28, 1.8, 2.6, 3.62, 4.67],
    [0.49, 0.5, 0.54, 0.62, 0.75, 0.95, 1.27, 1.77, 2.35, 2.78, 2.6],
    [0.48, 0.49, 0.53, 0.6, 0.71, 0.88, 1.11, 1.35, 1.48, 1.35, 1.0],
    [0.4, 0.405, 0.42, 0.44, 0.47, 0.52, 0.575, 0.58, 0.52, 0.35, 0.22],
    [0.12, 0.118, 0.11, 0.093, 0.07, 0.04, 0.0, -0.045, -0.1, -0.16, -0.22],
]

# snapshot label positions (label, x, value) in each profile panel
LAB_B = [("0.0", 0.249, 0.453), ("0.1", 0.147, 0.33), ("0.2", 0.147, 0.168), ("0.3", 0.149, -0.027), ("0.4", 0.149, -0.226), ("0.5", 0.246, -0.453)]
LAB_D = [("0.0", 0.148, 47.8), ("0.1", 0.148, 26.1), ("0.2", 0.248, -11.6), ("0.3", 0.348, -42.7), ("0.4", 0.149, -41.8), ("0.5", 0.248, -53.1)]
LAB_F = [("0.0", 0.306, -0.019), ("0.1", 0.367, -0.95), ("0.2", 0.443, -2.255), ("0.3", 0.348, -1.546), ("0.4", 0.098, -0.714), ("0.5", 0.098, -0.147)]
LAB_H = [("0.0", 0.298, -1.67), ("0.1", 0.377, -21.3), ("0.2", 0.45, -30.1), ("0.3", 0.25, -19.7), ("0.4", 0.069, -16.9), ("0.5", 0.099, -7.4)]
LAB_J = [("0.0", 0.45, -0.004), ("0.1", 0.397, 0.114), ("0.2", 0.45, 0.226), ("0.3", 0.25, 0.098), ("0.4", 0.15, 0.051), ("0.5", 0.252, 0.014)]
LAB_L = [("0.0", 0.149, 3.7), ("0.1", 0.149, -32.7), ("0.2", 0.149, -52.5), ("0.3", 0.299, -42.1), ("0.4", 0.299, -32.0), ("0.5", 0.299, -1.7)]
LAB_N = [("0.0", 0.45, 0.0), ("0.1", 0.45, 0.6), ("0.2", 0.419, 1.13), ("0.3", 0.33, 0.58), ("0.4", 0.15, 0.08), ("0.5", 0.25, 0.0)]
LAB_P = [("0.0", 0.45, -0.193), ("0.1", 0.35, -0.217), ("0.2", 0.3, 0.224), ("0.3", 0.248, 0.44), ("0.4", 0.149, 0.407), ("0.5", 0.1, 0.072)]
LAB_R = [("0.0", 0.447, 0.031), ("0.1", 0.447, 0.449), ("0.2", 0.348, 0.408), ("0.3", 0.248, 0.26), ("0.4", 0.149, 0.177), ("0.5", 0.245, 0.002)]
LAB_T = [("0.0", 0.45, -0.18), ("0.1", 0.35, 0.25), ("0.2", 0.4, 2.08), ("0.3", 0.25, 0.98), ("0.4", 0.15, 0.67), ("0.5", 0.25, 0.02)]


# ---------------------------------------------------------------- colours
def copper(v):
    v = max(0.0, min(1.0, v))
    return "rgb(%d,%d,%d)" % (round(255 * min(1.0, 1.25 * v)), round(255 * 0.7812 * v), round(255 * 0.4975 * v))


def viridis(v):
    return sample_colorscale("Viridis", [max(0.0, min(1.0, v))])[0]


def time_color(t):
    return copper(1 - t / 0.5)


def elem_color(k):
    return viridis(0.92 - k * 0.82 / 9)


def pos_color(x):
    return viridis(0.93 - 1.7 * abs(x))


# ---------------------------------------------------------------- figure scaffolding
fig = go.Figure()
axes = {}
annotations = []
TICK_SIZE = 22


def sfx(p):
    return "" if p == 1 else str(p)


def span(txt, col):
    return '<span style="color:%s">%s</span>' % (col, txt)


def make_axes(p, row, col, kind, yrange, yticks):
    s = sfx(p)
    x0, x1 = COLS[col]
    y0, y1 = ROWS[row]
    if kind == "t":
        xr = [0, 0.5]
        tv = TIME_TICKS
        tt = [span(l, time_color(v)) for v, l in zip(TIME_TICKS, TIME_TICK_TEXT)]
        vlines = [(t, time_color(t)) for t in SNAP_T]
    else:
        xr = [-0.5, 0.5]
        tv = SPACE_TICKS
        tt = [span(l, pos_color(v)) for v, l in zip(SPACE_TICKS, SPACE_TICK_TEXT)]
        vlines = [(v, pos_color(v)) for v in SPACE_TICKS]
    axes["xaxis" + s] = dict(
        domain=[x0 / W, x1 / W], range=xr, anchor="y" + s, automargin=False,
        tickmode="array", tickvals=tv, ticktext=tt, ticks="",
        showgrid=False, zeroline=False, showline=True, mirror=True,
        linecolor="#262626", linewidth=2,
        tickfont=dict(family=FONT, size=TICK_SIZE), ticklabelstandoff=3, fixedrange=True)
    axes["yaxis" + s] = dict(
        domain=[1 - y1 / H, 1 - y0 / H], range=yrange, anchor="x" + s, automargin=False,
        tickmode="array", tickvals=yticks, ticktext=["%g" % v for v in yticks],
        ticks="inside", ticklen=5, tickwidth=1.5, tickcolor="#262626", mirror="ticks",
        showline=False, showgrid=True, gridcolor="#DDDDDD", gridwidth=2, zeroline=False,
        tickfont=dict(family=FONT, size=TICK_SIZE, color="black"), ticklabelstandoff=2,
        fixedrange=True)
    # reference lines at the snapshot times / probe positions, under the curves
    for xv, c in vlines:
        edge = xv in (xr[0], xr[1])
        fig.add_trace(go.Scatter(
            x=[xv, xv], y=yrange, mode="lines", xaxis="x" + s, yaxis="y" + s,
            line=dict(color=c, width=3.5 if edge else 2), opacity=0.75,
            showlegend=False, hoverinfo="skip"))
    annotations.append(dict(text=chr(ord("a") + p - 1) + ")", xref="paper", yref="paper",
                            x=(x0 - 8) / W, y=1 - y0 / H, xanchor="right", yanchor="middle",
                            showarrow=False, font=dict(family=FONT, size=22, color="black")))


def curve(p, x, y, color, width=1.8, dash=None):
    s = sfx(p)
    fig.add_trace(go.Scatter(
        x=x, y=y, mode="lines", xaxis="x" + s, yaxis="y" + s,
        line=dict(color=color, width=width, shape="spline", smoothing=0.8, dash=dash),
        showlegend=False, hoverinfo="skip"))


def time_panel(p, row, col, tgrid, series, yrange, yticks, odd=False):
    make_axes(p, row, col, "t", yrange, yticks)
    for k, vals in enumerate(series):
        curve(p, tgrid, vals, elem_color(k))
        if odd:
            curve(p, tgrid, [-v for v in vals], elem_color(k))


X_FULL = [-v for v in X_HALF[::-1]] + X_HALF[1:]


def space_panel(p, row, col, profiles, yrange, yticks, labels, odd=False):
    make_axes(p, row, col, "x", yrange, yticks)
    for t, prof in zip(SNAP_T, profiles):
        left = [(-v if odd else v) for v in prof[::-1]]
        curve(p, X_FULL, left + prof[1:], time_color(t))
    s = sfx(p)
    for lab, xv, yv in labels:
        c = time_color(float(lab))
        annotations.append(dict(text=lab, x=xv, y=yv, xref="x" + s, yref="y" + s,
                                showarrow=False, bgcolor="white", bordercolor=c,
                                borderwidth=2, borderpad=1.5,
                                font=dict(family=FONT, size=14, color=c)))


# ---------------------------------------------------------------- panels
time_panel(1, 0, 0, T11, B_T, [-0.935, 0.945], [-0.5, 0, 0.5])
curve(1, T11, BA_T, "black", width=2.6, dash="dashdot")
space_panel(2, 0, 1, B_X, [-0.935, 0.945], [-0.5, 0, 0.5], LAB_B)
time_panel(3, 0, 2, T11, HH_T, [-139, 89], [-100, -50, 0, 50])
curve(3, T11, HSUR_T, "black", width=2.6, dash="dashdot")
space_panel(4, 0, 3, HH_X, [-139, 89], [-100, -50, 0, 50], LAB_D)

time_panel(5, 1, 0, T21, DB_T, [-3.13, 0.535], [-3, -2, -1, 0])
space_panel(6, 1, 1, DB_X, [-3.13, 0.535], [-3, -2, -1, 0], LAB_F)
time_panel(7, 1, 2, T21, HV_T, [-39.1, 17.0], [-30, -20, -10, 0, 10])
space_panel(8, 1, 3, HV_X, [-39.1, 17.0], [-30, -20, -10, 0, 10], LAB_H)

time_panel(9, 2, 0, T11, E_T, [-0.317, 0.315], [-0.2, 0, 0.2], odd=True)
space_panel(10, 2, 1, E_X, [-0.317, 0.315], [-0.2, 0, 0.2], LAB_J, odd=True)
time_panel(11, 2, 2, T11, HE_T, [-65.9, 10.15], [-60, -40, -20, 0])
space_panel(12, 2, 3, HE_X, [-65.9, 10.15], [-60, -40, -20, 0], LAB_L)

time_panel(13, 3, 0, T11, PE_T, [-0.32, 2.44], [0, 0.5, 1, 1.5, 2])
space_panel(14, 3, 1, PE_X, [-0.32, 2.44], [0, 0.5, 1, 1.5, 2], LAB_N)
time_panel(15, 3, 2, T21, PH_T, [-0.66, 2.0], [-0.5, 0, 0.5, 1, 1.5])
space_panel(16, 3, 3, PH_X, [-0.66, 2.0], [-0.5, 0, 0.5, 1, 1.5], LAB_P)

time_panel(17, 4, 0, T21, PV_T, [-0.126, 1.37], [0, 0.5, 1])
space_panel(18, 4, 1, PV_X, [-0.126, 1.37], [0, 0.5, 1], LAB_R)
time_panel(19, 4, 2, T21, PT_T, [-0.73, 5.54], [0, 1, 2, 3, 4, 5])
space_panel(20, 4, 3, PT_X, [-0.73, 5.54], [0, 1, 2, 3, 4, 5], LAB_T)

# ---------------------------------------------------------------- call-outs in the time panels
c1, c10 = elem_color(0), elem_color(9)
box = dict(showarrow=False, bgcolor="white", borderwidth=2, borderpad=2)
annotations += [
    dict(text="<i>B\u0304</i><sub>1</sub>(<i>t</i>)", x=0.376, y=0.03, xref="x", yref="y",
         bordercolor=c1, font=dict(family=FONT, size=21, color=c1), **box),
    dict(text="<i>B\u0304</i><sub>10</sub>(<i>t</i>)", x=0.162, y=-0.22, xref="x", yref="y",
         bordercolor=c10, font=dict(family=FONT, size=21, color=c10), **box),
    dict(text="<i>B</i><sub>a</sub>(<i>t</i>)", x=0.281, y=-0.087, ax=0.33, ay=0.58,
         xref="x", yref="y", axref="x", ayref="y", showarrow=True, arrowhead=2,
         arrowsize=1, arrowwidth=2, arrowcolor="black", bgcolor="white",
         font=dict(family=FONT, size=21, color="black")),
    dict(text="<i>H\u0304</i><sub>1</sub>(<i>t</i>)", x=0.413, y=-21.5, xref="x3", yref="y3",
         bordercolor=c1, font=dict(family=FONT, size=21, color=c1), **box),
    dict(text="<i>H\u0304</i><sub>10</sub>(<i>t</i>)", x=0.134, y=-46.8, xref="x3", yref="y3",
         bordercolor=c10, font=dict(family=FONT, size=21, color=c10), **box),
    dict(text="<i>H</i><sub>sur</sub>(<i>t</i>)", x=0.268, y=-96.5, ax=0.09, ay=-120.5,
         xref="x3", yref="y3", axref="x3", ayref="y3", showarrow=True, arrowhead=2,
         arrowsize=1, arrowwidth=2, arrowcolor="black", bgcolor="white",
         font=dict(family=FONT, size=21, color="black")),
]

# ---------------------------------------------------------------- axis titles
YTITLES = [
    ["<i>B</i> (T)", "<i>H</i><sub>h</sub> (A/m)"],
    ["d<i>B</i>/d<i>t</i> (T/ms)", "<i>H</i><sub>v</sub> (A/m)"],
    ["<i>E</i> (V/m)", "<i>H</i><sub>e</sub> (A/m)"],
    ["<i>p</i><sub>e</sub> (W/kg)", "<i>p</i><sub>h</sub> (W/kg)"],
    ["<i>p</i><sub>v</sub> (W/kg)", "<i>p</i><sub>t</sub> (W/kg)"],
]
for r, pair in enumerate(YTITLES):
    yc = 1 - (ROWS[r][0] + ROWS[r][1]) / 2 / H
    for txt, xpx in zip(pair, (24, 692)):
        annotations.append(dict(text=txt, x=xpx / W, y=yc, xref="paper", yref="paper",
                                textangle=-90, showarrow=False, xanchor="center", yanchor="middle",
                                font=dict(family=FONT, size=23, color="black")))
for c, txt in enumerate(["<i>t</i>/<i>T</i><sub>p</sub>", "<i>x</i>/<i>b</i>",
                         "<i>t</i>/<i>T</i><sub>p</sub>", "<i>x</i>/<i>b</i>"]):
    annotations.append(dict(text=txt, x=(COLS[c][0] + COLS[c][1]) / 2 / W, y=1 - 1545 / H,
                            xref="paper", yref="paper", showarrow=False,
                            xanchor="center", yanchor="middle",
                            font=dict(family=FONT, size=23, color="black")))

fig.update_layout(
    **axes, annotations=annotations,
    width=W, height=H, margin=dict(l=0, r=0, t=0, b=0, autoexpand=False),
    paper_bgcolor="white", plot_bgcolor="white",
    font=dict(family=FONT, size=18, color="black"),
)
fig.write_html("out.html")
